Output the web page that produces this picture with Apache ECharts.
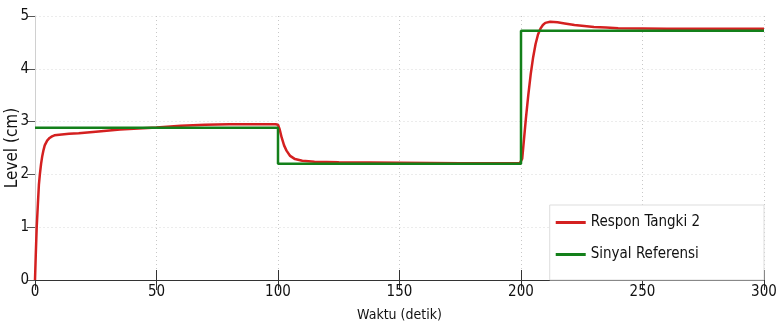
<!DOCTYPE html>
<html>
<head>
<meta charset="utf-8">
<script src="https://cdn.jsdelivr.net/npm/echarts@6/dist/echarts.min.js"></script>
<style>html,body{margin:0;padding:0;background:#fff}#c{width:780px;height:322px}</style>
</head>
<body>
<div id="c"></div>
<script>
const xTicks = [0, 50, 100, 150, 200, 250, 300];
const yTicks = [0, 1, 2, 3, 4, 5];
const respTime = [0,0.3,0.7,1.2,1.6,2,2.5,3,3.5,4,5,6,7,8,10,14,18,25,35,50,60,70,80,90,99,100,100.7,101.5,102.5,103.5,105,107,110,115,125,150,175,199.5,200.5,201,201.5,202,203,204,205,206,207,208,209,210,212,215,218,222,226,230,235,240,260,300];
const respValue = [0,0.45,1.0,1.45,1.8,2.0,2.2,2.35,2.46,2.55,2.64,2.69,2.72,2.74,2.75,2.77,2.78,2.81,2.85,2.89,2.92,2.94,2.95,2.95,2.95,2.94,2.85,2.7,2.55,2.45,2.35,2.29,2.26,2.24,2.23,2.22,2.21,2.21,2.3,2.55,2.8,3.05,3.5,3.9,4.22,4.47,4.65,4.76,4.83,4.87,4.89,4.88,4.86,4.83,4.81,4.79,4.78,4.77,4.76,4.76];
const refTime = [0, 100, 100, 200, 200, 300];
const refValue = [2.885, 2.885, 2.2, 2.2, 4.72, 4.72];
const seriesNames = ['Respon Tangki 2', 'Sinyal Referensi'];

const zip = (a, b) => a.map((t, i) => [t, b[i]]);
const font = '"Liberation Sans Narrow", "DejaVu Sans Condensed", "Liberation Sans", Arial, sans-serif';
const chart = echarts.init(document.getElementById('c'), null, {renderer: 'canvas'});
chart.setOption({
  animation: false,
  backgroundColor: '#fff',
  grid: {left: 35, right: 16, top: 16, bottom: 42, containLabel: false, outerBoundsMode: 'none'},
  legend: {
    orient: 'vertical', right: 16, bottom: 42,
    padding: [10, 64, 18, 6],
    borderColor: '#dddddd', borderWidth: 1, backgroundColor: '#fff',
    icon: 'rect', itemWidth: 30, itemHeight: 3, itemGap: 17,
    textStyle: {fontFamily: font, fontSize: 15, color: '#111'},
    data: seriesNames
  },
  xAxis: [{
    type: 'value', min: 0, max: 300, interval: 50,
    name: 'Waktu (detik)', nameLocation: 'middle', nameGap: 28, nameMoveOverlap: false,
    nameTextStyle: {fontFamily: font, fontSize: 14, color: '#111'},
    axisLine: {show: true, onZero: false, lineStyle: {color: '#333', width: 1}},
    axisTick: {show: true, inside: true, length: 10, lineStyle: {color: '#333'}},
    axisLabel: {fontFamily: font, fontSize: 15, color: '#111', margin: 5,
      formatter: v => xTicks.includes(v) ? String(v) : ''},
    splitLine: {show: true, lineStyle: {color: '#c8c8c8', type: [1, 3]}}
  }, {
    type: 'value', min: 0, max: 300, interval: 50, position: 'top',
    axisLine: {show: false},
    axisTick: {show: true, inside: true, length: 10, lineStyle: {color: '#333'}},
    axisLabel: {show: false}, splitLine: {show: false}
  }],
  yAxis: [{
    type: 'value', min: 0, max: 5, interval: 1,
    name: 'Level (cm)', nameLocation: 'middle', nameGap: 14, nameMoveOverlap: false,
    nameTextStyle: {fontFamily: font, fontSize: 17, color: '#111'},
    axisLine: {show: false},
    axisTick: {show: false},
    axisLabel: {fontFamily: font, fontSize: 15, color: '#111', margin: 6,
      formatter: v => yTicks.includes(v) ? String(v) : ''},
    splitLine: {show: true, lineStyle: {color: '#ececec', type: [2, 2]}}
  }, {
    type: 'value', min: 0, max: 5, interval: 1, position: 'right',
    axisLine: {show: true, lineStyle: {color: '#d0d0d0'}},
    axisTick: {show: true, inside: true, length: 8, lineStyle: {color: '#555'}},
    axisLabel: {show: false}, splitLine: {show: false}
  }],
  series: [{
    name: seriesNames[0], type: 'line', symbol: 'none', z: 3,
    data: zip(respTime, respValue),
    lineStyle: {color: '#d42020', width: 2.5}, itemStyle: {color: '#d42020'}
  }, {
    name: seriesNames[1], type: 'line', symbol: 'none', z: 4,
    data: zip(refTime, refValue),
    lineStyle: {color: '#13801a', width: 2.5}, itemStyle: {color: '#13801a'}
  }]
});
</script>
</body>
</html>
